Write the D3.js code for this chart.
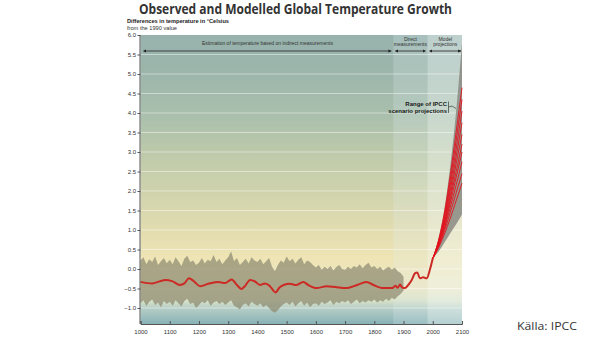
<!DOCTYPE html>
<html>
<head>
<meta charset="utf-8">
<script src="https://cdn.jsdelivr.net/npm/d3@7/dist/d3.min.js"></script>
<style>
  html, body { margin: 0; padding: 0; background: #ffffff; }
  svg { display: block; }
</style>
</head>
<body>
<svg id="chart" width="595" height="340"></svg>
<script>
// ---- Data -------------------------------------------------------------
const yTicks = [-1.0, -0.5, 0.0, 0.5, 1.0, 1.5, 2.0, 2.5, 3.0, 3.5, 4.0, 4.5, 5.0, 5.5, 6.0];
const xTicks = [1000, 1100, 1200, 1300, 1400, 1500, 1600, 1700, 1800, 1900, 2000, 2100];

// Period boundaries (years)
const periodIndirect = [1000, 1865];
const periodDirect = [1865, 1982];
const periodModel = [1982, 2100];

// Reconstruction uncertainty band, one value per decade 1000..1900
const bandYears = d3.range(1000, 1901, 10);
const bandUpper = [
  0.22, 0.30, 0.12, 0.25, 0.18, 0.32, 0.10, 0.20, 0.28, 0.15,
  0.24, 0.12, 0.30, 0.20, 0.08, 0.26, 0.34, 0.18, 0.22, 0.10,
  0.16, 0.28, 0.14, 0.24, 0.20, 0.36, 0.18, 0.26, 0.12, 0.22,
  0.30, 0.45, 0.20, 0.28, 0.10, 0.18, 0.26, 0.14, 0.30, 0.22,
  0.18, 0.26, 0.12, 0.20, 0.28, 0.06, -0.05, 0.10, 0.22, 0.16,
  0.32, 0.20, 0.26, 0.14, 0.24, 0.30, 0.12, 0.22, 0.18, 0.10,
  0.04, 0.10, -0.02, 0.06, 0.00, 0.08, -0.04, 0.05, 0.10, 0.00,
  -0.02, 0.06, 0.00, 0.08, 0.04, 0.12, 0.02, 0.10, 0.16, 0.04,
  0.08, 0.00, 0.06, -0.04, 0.02, 0.06, -0.02, 0.04, -0.06, -0.10,
  -0.20
];
const bandLower = [
  -0.88, -0.80, -0.95, -0.84, -0.78, -0.92, -0.86, -0.98, -0.82, -0.90,
  -0.84, -0.94, -0.80, -0.88, -0.96, -0.82, -0.76, -0.90, -0.86, -1.00,
  -0.92, -0.84, -0.88, -0.80, -0.94, -0.86, -0.82, -0.90, -0.84, -0.92,
  -0.86, -0.80, -0.94, -0.98, -1.04, -0.92, -0.88, -0.96, -0.84, -0.90,
  -0.94, -0.88, -0.98, -0.92, -1.00, -1.08, -1.12, -1.06, -0.96, -0.90,
  -0.86, -0.92, -0.84, -0.96, -0.88, -0.82, -0.94, -0.86, -0.98, -0.90,
  -0.88, -0.94, -0.84, -0.90, -0.86, -0.80, -0.92, -0.84, -0.88, -0.82,
  -0.86, -0.80, -0.90, -0.84, -0.78, -0.88, -0.82, -0.86, -0.80, -0.84,
  -0.78, -0.86, -0.80, -0.84, -0.76, -0.82, -0.74, -0.78, -0.70, -0.64,
  -0.55
];

// Smoothed reconstruction and instrumental record
const obsYears = [1000, 1040, 1085, 1108, 1135, 1150, 1166, 1182, 1204, 1232, 1266, 1289,
  1312, 1330, 1345, 1357, 1375, 1392, 1409, 1426, 1443, 1462, 1475, 1490, 1511, 1534,
  1557, 1574, 1603, 1637, 1671, 1705, 1730, 1751, 1774, 1797, 1831, 1862, 1872, 1880,
  1888, 1895, 1905, 1916, 1928, 1939, 1947, 1956, 1967, 1979, 1990, 2000];
const obsValues = [-0.33, -0.37, -0.28, -0.31, -0.41, -0.37, -0.24, -0.31, -0.44, -0.38, -0.33, -0.36,
  -0.27, -0.41, -0.51, -0.44, -0.28, -0.32, -0.41, -0.37, -0.44, -0.60, -0.48, -0.41, -0.38, -0.41,
  -0.33, -0.41, -0.49, -0.44, -0.47, -0.49, -0.44, -0.38, -0.33, -0.41, -0.49, -0.49, -0.43, -0.48,
  -0.40, -0.47, -0.49, -0.41, -0.28, -0.11, -0.09, -0.24, -0.21, -0.24, -0.02, 0.27];

// Scenario projections 2000..2100
const projYears = [2000, 2020, 2040, 2060, 2080, 2100];
const projRangeLow = [0.27, 0.45, 0.68, 0.92, 1.15, 1.40];
const projRangeHigh = [0.27, 0.80, 1.55, 2.65, 4.05, 5.80];
const projScenarios = [
  [0.27, 0.55, 0.90, 1.30, 1.75, 2.20],
  [0.27, 0.58, 0.98, 1.45, 1.95, 2.45],
  [0.27, 0.60, 1.05, 1.58, 2.15, 2.75],
  [0.27, 0.62, 1.10, 1.70, 2.35, 3.00],
  [0.27, 0.64, 1.15, 1.80, 2.50, 3.20],
  [0.27, 0.66, 1.20, 1.90, 2.70, 3.45],
  [0.27, 0.68, 1.26, 2.02, 2.88, 3.75],
  [0.27, 0.70, 1.32, 2.15, 3.08, 4.05],
  [0.27, 0.72, 1.38, 2.28, 3.30, 4.35],
  [0.27, 0.74, 1.45, 2.42, 3.52, 4.65]
];

// ---- Layout -----------------------------------------------------------
const svg = d3.select("#chart");
const plotL = 140.5, plotR = 462, plotT = 35, plotB = 324;
const yMin = -1.41, yMax = 6.0;

const x = d3.scaleLinear().domain([1000, 2100]).range([plotL, plotR]);
const y = d3.scaleLinear().domain([yMin, yMax]).range([plotB, plotT]);

const defs = svg.append("defs");

// Background colour ramp keyed by temperature value
const bgStops = [
  [6.0, "#97b2ad"], [5.0, "#9db6ab"], [4.0, "#a9bfad"], [3.0, "#bcc9aa"],
  [2.0, "#cfd3ad"], [1.0, "#e2dcb0"], [0.3, "#eee4b4"], [-0.5, "#ece6c2"],
  [-0.8, "#dae2c8"], [-1.0, "#b6cec6"], [-1.41, "#88b2b6"]
];
const grad = defs.append("linearGradient")
  .attr("id", "bg").attr("x1", 0).attr("y1", 0).attr("x2", 0).attr("y2", 1);
grad.selectAll("stop").data(bgStops).join("stop")
  .attr("offset", d => (yMax - d[0]) / (yMax - yMin))
  .attr("stop-color", d => d[1]);

svg.append("rect")
  .attr("x", plotL).attr("y", plotT)
  .attr("width", plotR - plotL).attr("height", plotB - plotT)
  .attr("fill", "url(#bg)");

// Period shading
svg.append("rect")
  .attr("x", x(periodDirect[0])).attr("y", plotT)
  .attr("width", x(periodDirect[1]) - x(periodDirect[0])).attr("height", plotB - plotT)
  .attr("fill", "#e2f2f6").attr("opacity", 0.22);
svg.append("rect")
  .attr("x", x(periodModel[0])).attr("y", plotT)
  .attr("width", x(periodModel[1]) - x(periodModel[0])).attr("height", plotB - plotT)
  .attr("fill", "#f2fafa").attr("opacity", 0.42);

// Light horizontal bands at each half degree
svg.append("g").selectAll("line")
  .data(yTicks.filter(v => v < 6))
  .join("line")
  .attr("x1", plotL).attr("x2", plotR)
  .attr("y1", d => y(d)).attr("y2", d => y(d))
  .attr("stroke", "#ffffff").attr("stroke-opacity", 0.45).attr("stroke-width", 1.2);

// Reconstruction uncertainty band
const bandData = bandYears.map((yr, i) => ({ yr, lo: bandLower[i], hi: bandUpper[i] }));
svg.append("path")
  .datum(bandData)
  .attr("d", d3.area().x(d => x(d.yr)).y0(d => y(d.lo)).y1(d => y(d.hi)).curve(d3.curveLinear))
  .attr("fill", "#8e8b70").attr("opacity", 0.72);

// Projection range
const rangeData = projYears.map((yr, i) => ({ yr, lo: projRangeLow[i], hi: projRangeHigh[i] }));
svg.append("path")
  .datum(rangeData)
  .attr("d", d3.area().x(d => x(d.yr)).y0(d => y(d.lo)).y1(d => y(d.hi)).curve(d3.curveMonotoneX))
  .attr("fill", "#8a8a82").attr("opacity", 0.85);

// Scenario lines
const projLine = d3.line().x((d, i) => x(projYears[i])).y(d => y(d)).curve(d3.curveMonotoneX);
svg.append("g").selectAll("path")
  .data(projScenarios)
  .join("path")
  .attr("d", projLine)
  .attr("fill", "none").attr("stroke", "#e3121c").attr("stroke-width", 0.9);

// Observed / reconstructed mean
const obsData = obsYears.map((yr, i) => ({ yr, v: obsValues[i] }));
svg.append("path")
  .datum(obsData)
  .attr("d", d3.line().x(d => x(d.yr)).y(d => y(d.v)).curve(d3.curveMonotoneX))
  .attr("fill", "none").attr("stroke", "#cc2a24").attr("stroke-width", 2);

// ---- Axes -------------------------------------------------------------
const axisFont = "'Liberation Sans', Arial, sans-serif";
const yAxis = svg.append("g")
  .attr("transform", `translate(${plotL},0)`)
  .call(d3.axisLeft(y).tickValues(yTicks).tickSize(3).tickPadding(1.5)
    .tickFormat(d => d3.format(".1f")(d).replace("-", "\u2212")));
yAxis.select(".domain").attr("stroke", "#555").attr("d", `M-0.5,${plotT}V${plotB}`);
yAxis.selectAll(".tick line").attr("stroke", "#555");
yAxis.selectAll("text").attr("font-family", axisFont).attr("font-size", 6).attr("fill", "#333");

const xAxis = svg.append("g")
  .attr("transform", `translate(0,${plotB})`)
  .call(d3.axisBottom(x).tickValues(xTicks).tickSize(-3).tickPadding(6).tickFormat(d3.format("d")));
xAxis.select(".domain").attr("stroke", "#555");
xAxis.selectAll(".tick line").attr("stroke", "#555");
xAxis.selectAll("text").attr("font-family", axisFont).attr("font-size", 6).attr("fill", "#333");

// ---- Period arrows ----------------------------------------------------
defs.append("marker")
  .attr("id", "ah").attr("viewBox", "0 0 6 6").attr("refX", 5.5).attr("refY", 3)
  .attr("markerWidth", 4).attr("markerHeight", 4).attr("orient", "auto-start-reverse")
  .append("path").attr("d", "M0,0L6,3L0,6Z").attr("fill", "#222");

const arrowY = 51;
const periods = [
  { span: periodIndirect, pad: [3, 2], lines: ["Estimation of temperature based on indirect measurements"], len: 131 },
  { span: periodDirect, pad: [2, 2], lines: ["Direct", "measurements"] },
  { span: periodModel, pad: [2, 1], lines: ["Model", "projections"] }
];
periods.forEach(p => {
  const x0 = x(p.span[0]) + p.pad[0], x1 = x(p.span[1]) - p.pad[1];
  svg.append("line")
    .attr("x1", x0).attr("x2", x1).attr("y1", arrowY).attr("y2", arrowY)
    .attr("stroke", "#222").attr("stroke-width", 0.8)
    .attr("marker-start", "url(#ah)").attr("marker-end", "url(#ah)");
  const cx = (x0 + x1) / 2;
  const t = svg.append("text")
    .attr("text-anchor", "middle").attr("font-family", axisFont)
    .attr("font-size", 5).attr("fill", "#333");
  if (p.lines.length === 1) {
    t.attr("x", cx).attr("y", 45).text(p.lines[0]);
    if (p.len) t.attr("textLength", p.len).attr("lengthAdjust", "spacingAndGlyphs");
  } else {
    p.lines.forEach((ln, i) => t.append("tspan").attr("x", cx).attr("y", 40.5 + i * 5.5).text(ln));
  }
});

// ---- Projection annotation --------------------------------------------
const ann = svg.append("text")
  .attr("text-anchor", "end").attr("font-family", axisFont)
  .attr("font-size", 6).attr("font-weight", "bold").attr("fill", "#1a1a1a");
ann.append("tspan").attr("x", 447).attr("y", 106).text("Range of IPCC");
ann.append("tspan").attr("x", 447).attr("y", 112.5).text("scenario projections");
svg.append("path")
  .attr("d", "M448.5,101.5V113 M448.5,107 L452,106 L456,108.5")
  .attr("fill", "none").attr("stroke", "#222").attr("stroke-width", 0.6);

// ---- Titles -----------------------------------------------------------
svg.append("text")
  .attr("x", 295.5).attr("y", 13.5).attr("text-anchor", "middle")
  .attr("font-family", "'Open Sans', sans-serif").attr("font-weight", "bold")
  .attr("font-size", 14.5).attr("fill", "#333")
  .attr("textLength", 313).attr("lengthAdjust", "spacingAndGlyphs")
  .text("Observed and Modelled Global Temperature Growth");

svg.append("text")
  .attr("x", 127).attr("y", 22.5)
  .attr("font-family", axisFont).attr("font-weight", "bold")
  .attr("font-size", 5.4).attr("fill", "#222")
  .attr("textLength", 102).attr("lengthAdjust", "spacingAndGlyphs")
  .text("Differences in temperature in °Celsius");
svg.append("text")
  .attr("x", 127).attr("y", 30)
  .attr("font-family", axisFont)
  .attr("font-size", 5.2).attr("fill", "#333")
  .attr("textLength", 50).attr("lengthAdjust", "spacingAndGlyphs")
  .text("from the 1990 value");

svg.append("text")
  .attr("x", 517).attr("y", 330)
  .attr("font-family", "'Open Sans', sans-serif")
  .attr("font-size", 10.5).attr("fill", "#333")
  .attr("textLength", 60).attr("lengthAdjust", "spacingAndGlyphs")
  .text("Källa: IPCC");
</script>
</body>
</html>
